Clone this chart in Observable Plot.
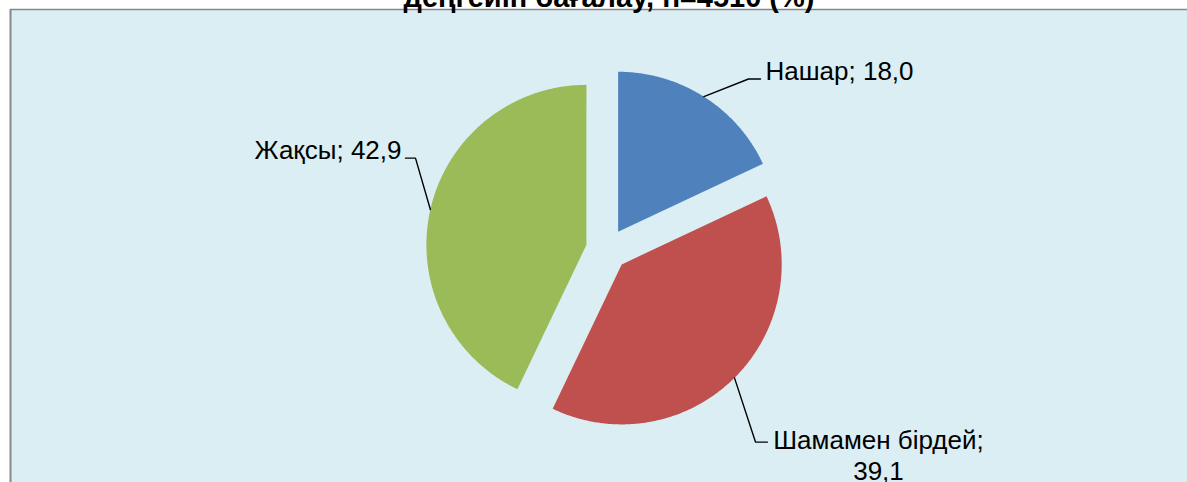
<!DOCTYPE html>
<html><head><meta charset="utf-8">
<script src="https://cdn.jsdelivr.net/npm/d3@7"></script>
<script src="https://cdn.jsdelivr.net/npm/@observablehq/plot@0.6"></script>
<style>body{margin:0;background:#fff;} svg{display:block}</style>
</head><body><div id="chart"></div>
<script>
// ---- data ----
const categories = ["Нашар", "Шамамен бірдей", "Жақсы"];
const values = [18.0, 39.1, 42.9];
const valueLabels = ["18,0", "39,1", "42,9"];
const colors = ["#4F81BD", "#C0504D", "#9BBB59"];
const titleText = "деңгейін бағалау, n=4510 (%)";

// ---- layout ----
const W = 1187, H = 482;
const center = {x: 606.4, y: 249};
const radius = 160, explode = 21;
const labelLayout = {
  "Нашар":          {elbow: [44.6, -17.7], end: 12,  text: [17, 1],    anchor: "start",  sep: "; "},
  "Шамамен бірдей": {elbow: [21, 64.2],    end: 12,  text: [123, 37.5], anchor: "middle", sep: ";\n"},
  "Жақсы":          {elbow: [-14.9, -51.3], end: -10, text: [-14, 0.8], anchor: "end",    sep: "; "}
};

const total = d3.sum(values);
let acc = 0;
const slices = categories.map((c, i) => {
  const a0 = acc / total * 2 * Math.PI; acc += values[i];
  const a1 = acc / total * 2 * Math.PI;
  const am = (a0 + a1) / 2;
  const ux = Math.sin(am), uy = -Math.cos(am);
  return {category: c, i, a0, a1, ux, uy,
    ax: center.x + explode * ux, ay: center.y + explode * uy};
});

const slicePts = [];
for (const s of slices) {
  slicePts.push({category: s.category, x: s.ax, y: s.ay});
  const n = Math.ceil((s.a1 - s.a0) / (Math.PI / 360));
  for (let k = 0; k <= n; k++) {
    const a = s.a0 + (s.a1 - s.a0) * k / n;
    slicePts.push({category: s.category, x: s.ax + radius * Math.sin(a), y: s.ay - radius * Math.cos(a)});
  }
}

const leaderPts = [];
const labels = [];
for (const s of slices) {
  const L = labelLayout[s.category];
  const mx = s.ax + radius * s.ux, my = s.ay + radius * s.uy;
  const ex = mx + L.elbow[0], ey = my + L.elbow[1];
  leaderPts.push({category: s.category, x: mx, y: my});
  leaderPts.push({category: s.category, x: ex, y: ey});
  leaderPts.push({category: s.category, x: ex + L.end, y: ey});
  labels.push({category: s.category, anchor: L.anchor,
    text: s.category + L.sep + valueLabels[s.i],
    x: ex + L.text[0], y: ey + L.text[1]});
}

const textMark = (anchor) => Plot.text(labels.filter(d => d.anchor === anchor), {
  x: "x", y: "y", text: "text", textAnchor: anchor, lineAnchor: "bottom",
  fontSize: 26, lineHeight: 1.19, fill: "#000"
});

const chart = Plot.plot({
  width: W, height: H,
  marginLeft: 10, marginTop: 9, marginRight: 0, marginBottom: 0,
  x: {domain: [10, W], range: [10, W], axis: null},
  y: {domain: [9, H], range: [9, H], axis: null},
  color: {domain: categories, range: colors},
  style: {fontFamily: "'Liberation Sans', Arial, sans-serif", background: "#fff", overflow: "hidden"},
  marks: [
    Plot.frame({fill: "#DAEEF3", stroke: "none"}),
    Plot.ruleX([10], {stroke: "#878787", strokeWidth: 2}),
    Plot.ruleY([9], {stroke: "#878787", strokeWidth: 1.5}),
    Plot.line(slicePts, {x: "x", y: "y", z: "category", fill: "category", stroke: "none", curve: "linear-closed"}),
    Plot.line(leaderPts, {x: "x", y: "y", z: "category", stroke: "#000", strokeWidth: 1.4}),
    textMark("start"), textMark("middle"), textMark("end"),
    Plot.text([titleText], {text: d => d, frameAnchor: "top", dx: 10, dy: -3, lineAnchor: "bottom",
      fontSize: 29, fontWeight: "bold", fill: "#000"})
  ]
});
document.getElementById("chart").appendChild(chart);
</script>
</body></html>
